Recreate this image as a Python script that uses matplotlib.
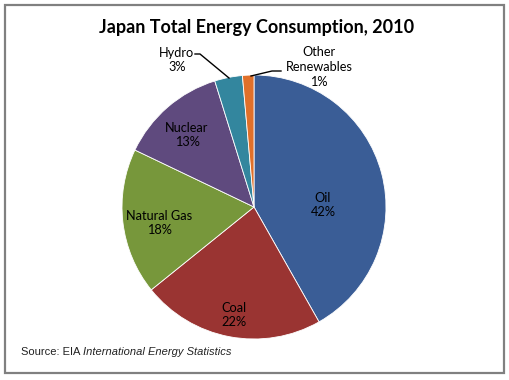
import matplotlib.pyplot as plt
from matplotlib.patches import Rectangle

# data
sources = ['Oil', 'Coal', 'Natural Gas', 'Nuclear', 'Hydro', 'Other\nRenewables']
shares = [41.8, 22.4, 17.9, 13.1, 3.4, 1.4]
colors = ['#3A5D96', '#9A3432', '#77973B', '#5F4A7E', '#33869E', '#E0702A']

W, H = 510, 380
fig = plt.figure(figsize=(W / 100, H / 100), dpi=100)
fig.patch.set_facecolor('white')

# outer frame
fig.add_artist(Rectangle((5 / W, 1 - 373 / H), 499 / W, 368 / H, transform=fig.transFigure,
                         fill=False, edgecolor='#808080', linewidth=1.6))

# pie axes: centre (254, 207) px, radius 132 px
cx, cy, r = 254, 207, 132
ax = fig.add_axes([(cx - r) / W, 1 - (cy + r) / H, 2 * r / W, 2 * r / H])

wedges, _ = ax.pie(shares, colors=colors, startangle=90, counterclock=False, radius=1,
                   wedgeprops=dict(edgecolor='white', linewidth=0.6))
ax.set_xlim(-1, 1)
ax.set_ylim(-1, 1)
ax.axis('off')

font = 'Lato'
fs = 9.2
def px(x, y):
    return (x - cx) / r, (cy - y) / r

inside = {'Oil': (323, 205), 'Coal': (234, 315), 'Natural Gas': (159, 223), 'Nuclear': (187, 135)}
for name, val in zip(sources, shares):
    label = f'{name}\n{val:.0f}%'
    if name in inside:
        ax.text(*px(*inside[name]), label, ha='center', va='center', fontsize=fs,
                family=font, color='black', linespacing=1.25)

# outside labels with leader lines
ax.text(*px(177, 60), f'Hydro\n{shares[4]:.0f}%', ha='center', va='center', fontsize=fs,
        family=font, linespacing=1.25, clip_on=False)
hx, hy = zip(px(195, 54), px(200, 54), px(229, 78))
ax.plot(hx, hy, color='black', lw=1, clip_on=False)

ax.text(*px(319, 67), f'{sources[5]}\n{shares[5]:.0f}%', ha='center', va='center', fontsize=fs,
        family=font, linespacing=1.25, clip_on=False)
ox, oy = zip(px(281, 71), px(272, 71), px(251, 76))
ax.plot(ox, oy, color='black', lw=1, clip_on=False)

fig.text(257 / W, 1 - 27 / H, 'Japan Total Energy Consumption, 2010', ha='center', va='center',
         fontsize=13, fontweight='bold', family=font)

src = fig.text(21 / W, 1 - 352 / H, 'Source: EIA ', ha='left', va='center', fontsize=8,
               family='Liberation Sans', color='#222222')
fig.canvas.draw()
bb = src.get_window_extent()
fig.text(bb.x1 / W, 1 - 352 / H, 'International Energy Statistics', ha='left', va='center',
         fontsize=8, family='Liberation Sans', style='italic', color='#222222')

fig.savefig('out.png', dpi=100, facecolor='white')
